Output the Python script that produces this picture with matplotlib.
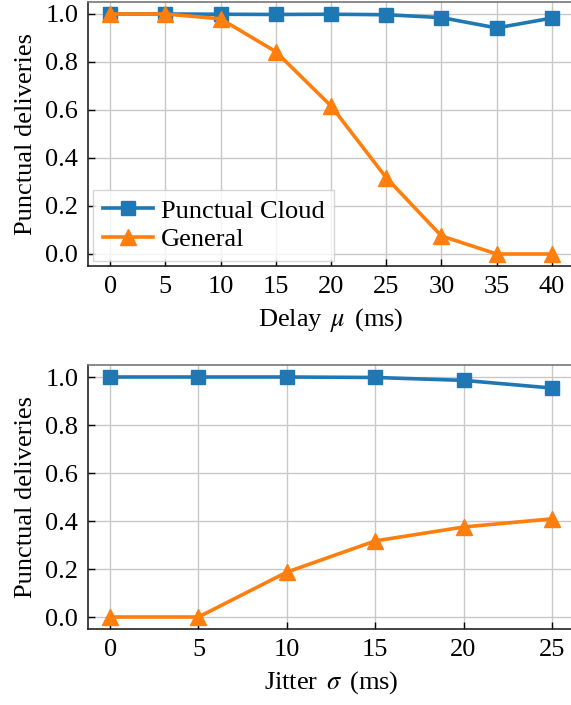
import matplotlib
matplotlib.use("Agg")
import matplotlib.pyplot as plt

# delay sweep
delay = [0, 5, 10, 15, 20, 25, 30, 35, 40]
delay_cloud = [1.0, 1.0, 0.999, 0.998, 0.999, 0.997, 0.985, 0.942, 0.983]
delay_general = [1.0, 1.0, 0.98, 0.843, 0.617, 0.318, 0.075, 0.0, 0.0]

# jitter sweep
jitter = [0, 5, 10, 15, 20, 25]
jitter_cloud = [1.0, 1.0, 1.0, 0.998, 0.986, 0.954]
jitter_general = [0.0, 0.0, 0.187, 0.317, 0.375, 0.409]

yticks = [0.0, 0.2, 0.4, 0.6, 0.8, 1.0]

plt.rcParams['font.family'] = ['Liberation Serif', 'DejaVu Serif']
plt.rcParams['mathtext.fontset'] = 'stix'
plt.rcParams['font.size'] = 19

blue = '#1f77b4'
orange = '#ff7f0e'

fig = plt.figure(figsize=(5.71, 7.05), dpi=100)
W, H = 571.0, 705.0
ax1 = fig.add_axes([88 / W, 1 - 266 / H, 486 / W, 264 / H])
ax2 = fig.add_axes([88 / W, 1 - 629 / H, 486 / W, 264 / H])


def style(ax, xs):
    ax.set_ylim(-0.05, 1.05)
    ax.set_xticks(xs)
    ax.set_yticks(yticks)
    ax.set_yticklabels(['%.1f' % v for v in yticks])
    ax.grid(True, color='#c8c8c8', linewidth=1.0)
    ax.set_axisbelow(True)
    ax.tick_params(direction='in', length=5, width=1, top=False, right=False,
                   labelsize=19, pad=7)
    for s in ['left', 'bottom']:
        ax.spines[s].set_color('#222222')
        ax.spines[s].set_linewidth(1.2)
    for s in ['top', 'right']:
        ax.spines[s].set_color('#777777')
        ax.spines[s].set_linewidth(1.2)
    ax.set_ylabel('Punctual deliveries', fontsize=19, labelpad=6)


ax1.plot(delay, delay_cloud, color=blue, marker='s', markersize=10,
         linewidth=2.6, label='Punctual Cloud', zorder=3)
ax1.plot(delay, delay_general, color=orange, marker='^', markersize=11,
         linewidth=2.6, label='General', zorder=3)
style(ax1, delay)
ax1.set_xlim(-2, 42)
ax1.set_xlabel(r'Delay $\,\mu\,$ (ms)', fontsize=19, labelpad=6)
leg = ax1.legend(loc='lower left', fontsize=19, fancybox=False, framealpha=0.8,
                 edgecolor='#cccccc', handlelength=1.9, borderaxespad=0.2,
                 labelspacing=0.2, borderpad=0.35, handletextpad=0.3)

ax2.plot(jitter, jitter_cloud, color=blue, marker='s', markersize=10,
         linewidth=2.6, zorder=3)
ax2.plot(jitter, jitter_general, color=orange, marker='^', markersize=11,
         linewidth=2.6, zorder=3)
style(ax2, jitter)
ax2.set_xlim(-1.25, 26.25)
ax2.set_xlabel(r'Jitter $\,\sigma\,$ (ms)', fontsize=19, labelpad=6)

fig.savefig('out.png', dpi=100)
